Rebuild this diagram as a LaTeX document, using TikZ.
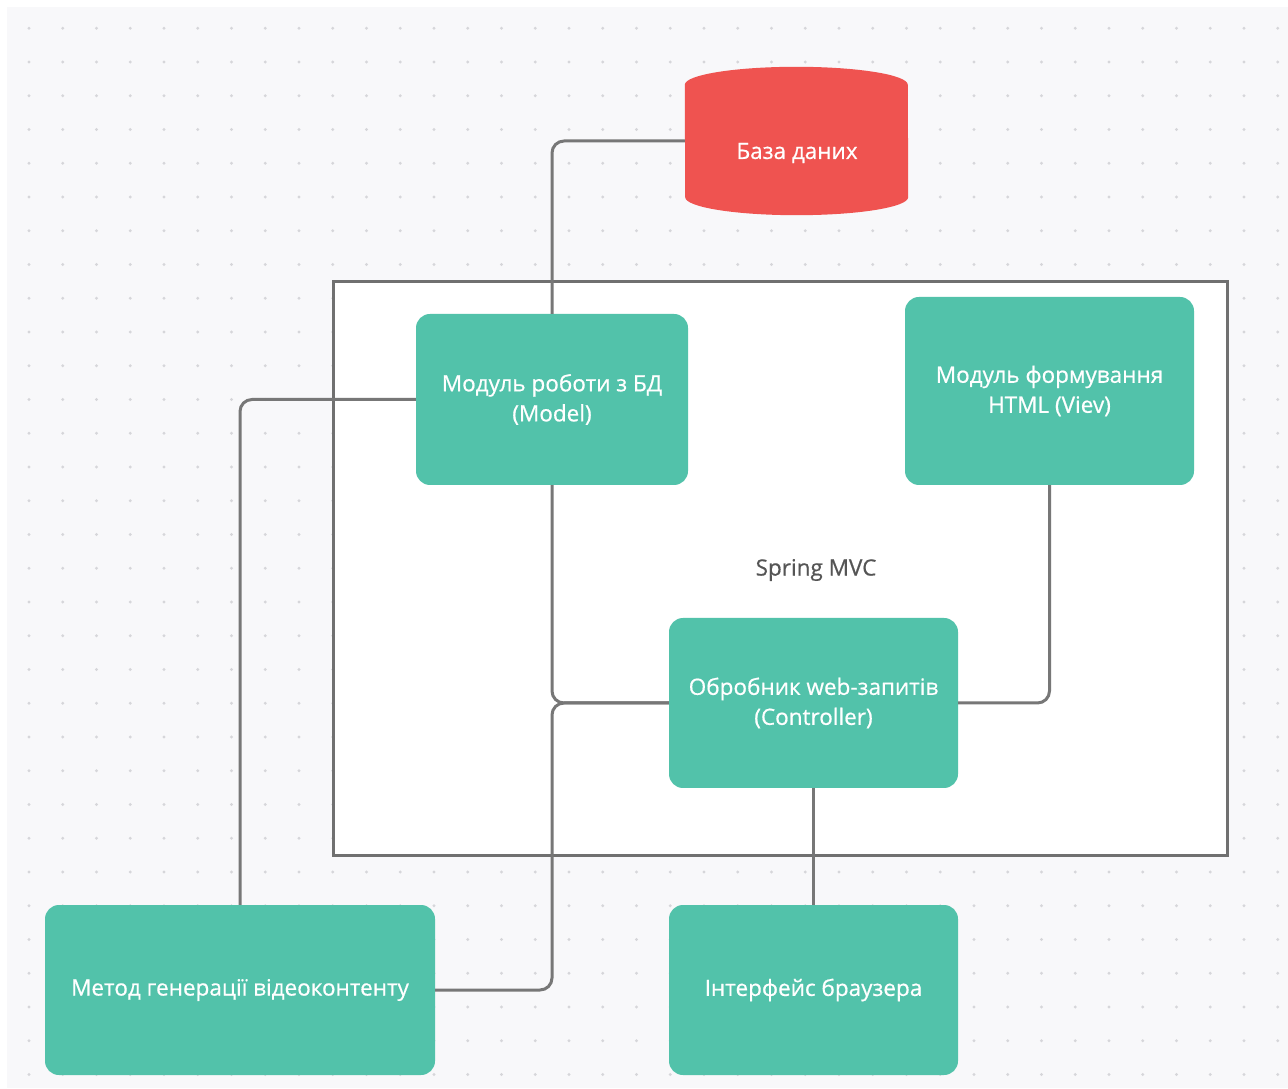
\documentclass[tikz,border=0pt]{standalone}
\usepackage{fontspec}
\setmainfont{Open Sans}
\newfontfamily\labelfont[FakeBold=0.6]{Open Sans}
\definecolor{canvas}{HTML}{F8F8FA}
\definecolor{griddot}{HTML}{D6D6DA}
\definecolor{teal}{HTML}{52C2AA}
\definecolor{dbred}{HTML}{EF5350}
\definecolor{wire}{HTML}{777777}
\definecolor{frame}{HTML}{707070}
\definecolor{labelgray}{HTML}{555555}
\tikzset{
  block/.style={fill=teal, rounded corners=14pt, text=white, align=center,
    font=\labelfont\fontsize{22.5}{30}\selectfont, inner sep=0pt},
  link/.style={draw=wire, line width=3pt, rounded corners=12pt},
}
\begin{document}
\begin{tikzpicture}[x=1pt,y=1pt]
  % page and dotted canvas
  \fill[white] (0,0) rectangle (1288,1088);
  \useasboundingbox (0,0) rectangle (1288,1088);
  \fill[canvas] (7,0) rectangle (1288,1081);
  \foreach \i in {0,...,37}{
    \foreach \j in {0,...,31}{
      \fill[griddot] ({29+33.75*\i},{1059.7-33.75*\j}) circle (1.6pt);
    }
  }

  % Spring MVC container
  \node[draw=frame, fill=white, line width=3pt, minimum width=894pt,
        minimum height=573pt, inner sep=0pt] (mvc) at (780,519.5) {};
  \node[text=labelgray, font=\labelfont\fontsize{22.5}{30}\selectfont] (mvclabel) at (816,518) {Spring MVC};

  % database cylinder
  \node[minimum width=223pt, minimum height=148pt, inner sep=0pt] (db) at (796.5,947) {};
  \fill[dbred] ([yshift=-18pt]db.north west) arc[start angle=180, end angle=0, x radius=111.5pt, y radius=18pt]
    -- ([yshift=18pt]db.south east) arc[start angle=0, end angle=-180, x radius=111.5pt, y radius=18pt] -- cycle;
  \node[text=white, font=\labelfont\fontsize{22.5}{30}\selectfont] (dbtext) at (797,935) {База даних};

  % modules
  \node[block, minimum width=272pt, minimum height=171pt] (model) at (552,688.5)
    {Модуль роботи з БД\\(Model)};
  \node[block, minimum width=289pt, minimum height=188pt] (view) at (1049.5,697)
    {Модуль формування\\HTML (Viev)};
  \node[block, minimum width=289pt, minimum height=170pt] (ctrl) at (813.5,385)
    {Обробник web-запитів\\(Controller)};
  \node[block, minimum width=390pt, minimum height=170pt] (method) at (240,98)
    {Метод генерації відеоконтенту};
  \node[block, minimum width=289pt, minimum height=170pt] (browser) at (813.5,98)
    {Інтерфейс браузера};

  % connectors
  \draw[link] (db.west) -| (model.north);
  \draw[link] (model.west) -| (method.north);
  \draw[link] (model.south) |- (ctrl.west);
  \draw[link] (method.east) -| (model.south |- ctrl.west) -- (ctrl.west);
  \draw[link] (view.south) |- (ctrl.east);
  \draw[link] (ctrl.south) -- (browser.north);
\end{tikzpicture}
\end{document}
